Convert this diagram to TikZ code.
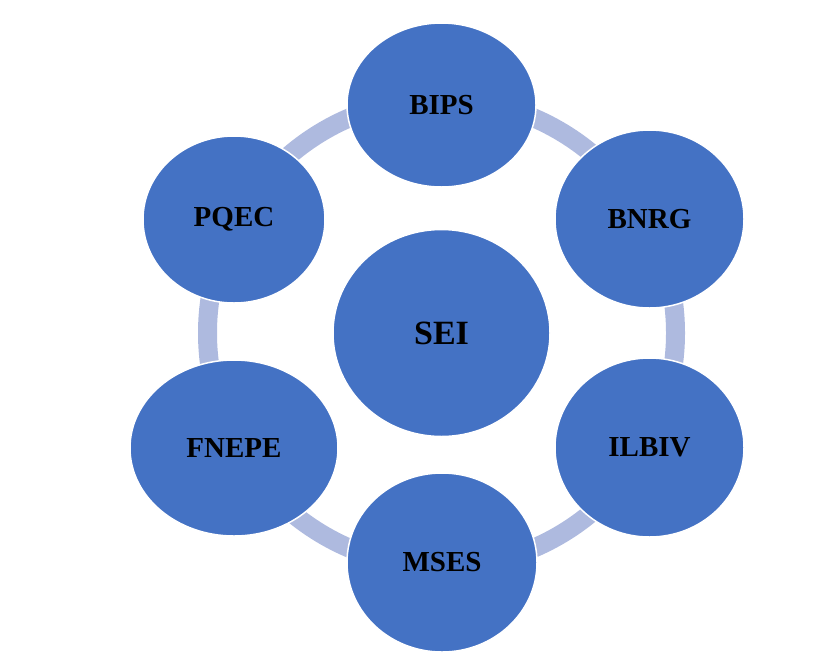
\documentclass[tikz,border=0pt]{standalone}
\usepackage{fontspec}
\setmainfont{Liberation Serif}
\usetikzlibrary{shapes.geometric,positioning}
\definecolor{circblue}{RGB}{68,114,196}
\definecolor{ringblue}{RGB}{174,186,223}

\begin{document}
\begin{tikzpicture}[x=1pt,y=-1pt,
	bubble/.style={ellipse, fill=circblue, draw=white, line width=1.5pt, inner sep=0pt, outer sep=0pt, font=\fontsize{29}{29}\selectfont\bfseries},
	ring/.style={draw=ringblue, line width=19pt}]
	\useasboundingbox (0,0) rectangle (832,662);
	\coordinate (hub) at (441.5,333);
	\draw[ring] (hub) circle (234);
	\node[bubble, minimum width=217pt, minimum height=207pt, font=\fontsize{34}{34}\selectfont\bfseries] (sei) at (hub) {SEI};
	\node[bubble, minimum width=189pt, minimum height=164pt] (bips) at (441.5,105) {BIPS};
	\node[bubble, minimum width=189pt, minimum height=178pt] (bnrg) at (649.5,219) {BNRG};
	\node[bubble, minimum width=189pt, minimum height=179pt] (ilbiv) at (649.5,447.5) {ILBIV};
	\node[bubble, minimum width=190pt, minimum height=179pt] (mses) at (442,562.5) {MSES};
	\node[bubble, minimum width=208pt, minimum height=176pt] (fnepe) at (234,448) {FNEPE};
	\node[bubble, minimum width=182pt, minimum height=167pt] (pqec) at (234,219.5) {PQEC};
\end{tikzpicture}
\end{document}
